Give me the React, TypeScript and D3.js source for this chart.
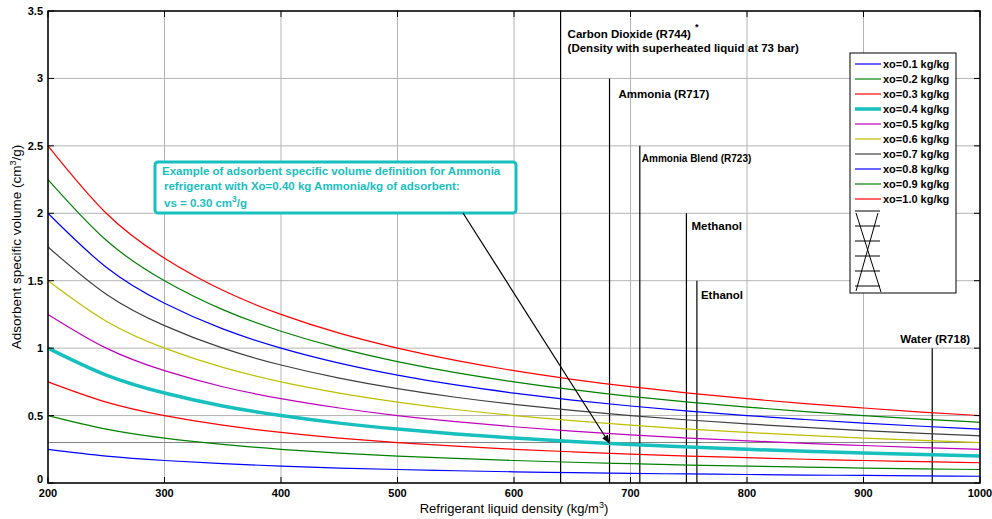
import React from 'react';
import * as d3 from 'd3';

// densities (kg/m3) where curves are sampled
const densities = [200, 250, 300, 350, 400, 450, 500, 550, 600, 650, 700, 750, 800, 850, 900, 950, 1000];

// adsorbent specific volume (cm3/g) for each xo
const xo01 = [0.25, 0.2, 0.167, 0.143, 0.125, 0.111, 0.1, 0.091, 0.083, 0.077, 0.071, 0.067, 0.063, 0.059, 0.056, 0.053, 0.05];
const xo02 = [0.5, 0.4, 0.333, 0.286, 0.25, 0.222, 0.2, 0.182, 0.167, 0.154, 0.143, 0.133, 0.125, 0.118, 0.111, 0.105, 0.1];
const xo03 = [0.75, 0.6, 0.5, 0.429, 0.375, 0.333, 0.3, 0.273, 0.25, 0.231, 0.214, 0.2, 0.188, 0.176, 0.167, 0.158, 0.15];
const xo04 = [1.0, 0.8, 0.667, 0.571, 0.5, 0.444, 0.4, 0.364, 0.333, 0.308, 0.286, 0.267, 0.25, 0.235, 0.222, 0.211, 0.2];
const xo05 = [1.25, 1.0, 0.833, 0.714, 0.625, 0.556, 0.5, 0.455, 0.417, 0.385, 0.357, 0.333, 0.313, 0.294, 0.278, 0.263, 0.25];
const xo06 = [1.5, 1.2, 1.0, 0.857, 0.75, 0.667, 0.6, 0.545, 0.5, 0.462, 0.429, 0.4, 0.375, 0.353, 0.333, 0.316, 0.3];
const xo07 = [1.75, 1.4, 1.167, 1.0, 0.875, 0.778, 0.7, 0.636, 0.583, 0.538, 0.5, 0.467, 0.438, 0.412, 0.389, 0.368, 0.35];
const xo08 = [2.0, 1.6, 1.333, 1.143, 1.0, 0.889, 0.8, 0.727, 0.667, 0.615, 0.571, 0.533, 0.5, 0.471, 0.444, 0.421, 0.4];
const xo09 = [2.25, 1.8, 1.5, 1.286, 1.125, 1.0, 0.9, 0.818, 0.75, 0.692, 0.643, 0.6, 0.563, 0.529, 0.5, 0.474, 0.45];
const xo10 = [2.5, 2.0, 1.667, 1.429, 1.25, 1.111, 1.0, 0.909, 0.833, 0.769, 0.714, 0.667, 0.625, 0.588, 0.556, 0.526, 0.5];

const seriesLabels = ['xo=0.1 kg/kg', 'xo=0.2 kg/kg', 'xo=0.3 kg/kg', 'xo=0.4 kg/kg', 'xo=0.5 kg/kg',
  'xo=0.6 kg/kg', 'xo=0.7 kg/kg', 'xo=0.8 kg/kg', 'xo=0.9 kg/kg', 'xo=1.0 kg/kg'];
const seriesValues = [xo01, xo02, xo03, xo04, xo05, xo06, xo07, xo08, xo09, xo10];
const seriesColors = ['#0000ff', '#008000', '#ff0000', '#17bfbf', '#bf00bf', '#bfbf00', '#404040', '#0000ff', '#008000', '#ff0000'];

// refrigerant liquid densities and the height their marker lines reach
const refNames = ['Carbon Dioxide (R744)', 'Ammonia (R717)', 'Ammonia Blend (R723)', 'Methanol', 'Ethanol', 'Water (R718)'];
const refDensity = [640, 682, 708, 748, 757, 959];
const refTop = [3.5, 3.0, 2.5, 2.0, 1.5, 1.0];

const xTicks = [200, 300, 400, 500, 600, 700, 800, 900, 1000];
const yTicks = [0, 0.5, 1, 1.5, 2, 2.5, 3, 3.5];

const exampleDensity = 682;
const exampleVs = 0.3;

const font = '"Liberation Sans", Arial, sans-serif';

export default function App() {
  const width = 992;
  const height = 519;
  const margin = { top: 11, right: 12, bottom: 36, left: 48 };

  const x = d3.scaleLinear().domain([200, 1000]).range([margin.left, width - margin.right]);
  const y = d3.scaleLinear().domain([0, 3.5]).range([height - margin.bottom, margin.top]);

  const line = d3.line<number>()
    .x((_, i) => x(densities[i]))
    .y(d => y(d))
    .curve(d3.curveNatural);

  const x0 = x(200), x1 = x(1000), y0 = y(0), y1 = y(3.5);

  return (
    <>
      <style>{'body{margin:0}'}</style>
      <svg width={width} height={height} style={{ display: 'block', fontFamily: font }}>
        <defs>
          <marker id="arrow" viewBox="0 0 10 10" refX="10" refY="5" markerWidth="7" markerHeight="7" orient="auto">
            <path d="M0,1 L10,5 L0,9 z" fill="#000" />
          </marker>
        </defs>
        <rect width={width} height={height} fill="#fff" />

        {/* grid */}
        {xTicks.map(t => (
          <line key={'gx' + t} x1={x(t)} x2={x(t)} y1={y0} y2={y1} stroke="#b4b4b4" strokeWidth={1} />
        ))}
        {yTicks.map(t => (
          <line key={'gy' + t} x1={x0} x2={x1} y1={y(t)} y2={y(t)} stroke="#b4b4b4" strokeWidth={1} />
        ))}

        {/* vs = 0.30 reference line */}
        <line x1={x0} x2={x1} y1={y(exampleVs)} y2={y(exampleVs)} stroke="#808080" strokeWidth={1} />

        {/* refrigerant density lines */}
        {refDensity.map((d, i) => (
          <line key={'r' + i} x1={x(d)} x2={x(d)} y1={y0} y2={y(refTop[i])} stroke="#000" strokeWidth={1.2} />
        ))}

        {/* curves */}
        {seriesValues.map((vals, i) => (
          <path key={'s' + i} d={line(vals) || ''} fill="none" stroke={seriesColors[i]}
            strokeWidth={i === 3 ? 3.5 : 1.2} />
        ))}

        {/* refrigerant labels */}
        <g fontWeight="bold" fontSize={11.5} fill="#000">
          <text x={x(refDensity[0]) + 7} y={38}>{refNames[0]}<tspan dx={4} dy={-8} fontSize={9}>*</tspan></text>
          <text x={x(refDensity[0]) + 7} y={52}>(Density with superheated liquid at 73 bar)</text>
          <text x={x(refDensity[1]) + 9} y={y(refTop[1]) + 20}>{refNames[1]}</text>
          <text x={x(refDensity[2]) + 2} y={y(refTop[2]) + 16} fontSize={10}>{refNames[2]}</text>
          <text x={x(refDensity[3]) + 5} y={y(refTop[3]) + 17}>{refNames[3]}</text>
          <text x={x(refDensity[4]) + 4} y={y(refTop[4]) + 18}>{refNames[4]}</text>
          <text x={x(refDensity[5]) - 32} y={y(refTop[5]) - 5}>{refNames[5]}</text>
        </g>

        {/* annotation box */}
        <rect x={155} y={162} width={361} height={51} rx={3} fill="#fff" stroke="#17bfbf" strokeWidth={3} />
        <g fontWeight="bold" fontSize={11.5} fill="#17bfbf">
          <text x={162} y={175}>Example of adsorbent specific volume definition for Ammonia</text>
          <text x={164} y={190}>refrigerant with Xo=0.40 kg Ammonia/kg of adsorbent:</text>
          <text x={164} y={207}>vs = 0.30 cm<tspan dy={-5} fontSize={8.5}>3</tspan><tspan dy={5}>/g</tspan></text>
        </g>
        <line x1={463} y1={213} x2={x(exampleDensity)} y2={y(exampleVs) + 1} stroke="#000" strokeWidth={1.2}
          markerEnd="url(#arrow)" />

        {/* axes box and ticks */}
        {xTicks.map(t => (
          <g key={'tx' + t}>
            <line x1={x(t)} x2={x(t)} y1={y0} y2={y0 - 6} stroke="#000" />
            <line x1={x(t)} x2={x(t)} y1={y1} y2={y1 + 6} stroke="#000" />
          </g>
        ))}
        {yTicks.map(t => (
          <g key={'ty' + t}>
            <line x1={x0} x2={x0 + 6} y1={y(t)} y2={y(t)} stroke="#000" />
            <line x1={x1} x2={x1 - 6} y1={y(t)} y2={y(t)} stroke="#000" />
          </g>
        ))}
        <rect x={x0} y={y1} width={x1 - x0} height={y0 - y1} fill="none" stroke="#000" strokeWidth={1.5} />

        {/* tick labels */}
        <g fontWeight="bold" fontSize={11} fill="#000">
          {xTicks.map(t => (
            <text key={'lx' + t} x={x(t)} y={y0 + 14} textAnchor="middle">{t}</text>
          ))}
          {yTicks.map(t => (
            <text key={'ly' + t} x={x0 - 5} y={y(t) + (t === 0 ? 0 : 4)} textAnchor="end">{t}</text>
          ))}
        </g>

        {/* axis titles */}
        <text x={(x0 + x1) / 2} y={513} textAnchor="middle" fontSize={13} fill="#000">
          Refrigerant liquid density (kg/m<tspan dy={-5} fontSize={9}>3</tspan><tspan dy={5}>)</tspan>
        </text>
        <text transform={`translate(21,${(y0 + y1) / 2}) rotate(-90)`} textAnchor="middle" fontSize={13.5} fill="#000">
          Adsorbent specific volume (cm<tspan dy={-5} fontSize={9}>3</tspan><tspan dy={5}>/g)</tspan>
        </text>

        {/* legend */}
        <rect x={850} y={53} width={106} height={240} fill="#fff" stroke="#000" strokeWidth={1} />
        {seriesLabels.map((s, i) => (
          <g key={'lg' + i}>
            <line x1={855} x2={881} y1={64 + i * 15} y2={64 + i * 15} stroke={seriesColors[i]}
              strokeWidth={i === 3 ? 3.5 : 1.2} />
            <text x={883} y={68 + i * 15} fontWeight="bold" fontSize={11} fill="#000">{s}</text>
          </g>
        ))}
        {refTop.map((_, i) => (
          <line key={'lr' + i} x1={855} x2={880} y1={211 + i * 15} y2={211 + i * 15} stroke="#000" strokeWidth={1} />
        ))}
        <line x1={856} y1={213} x2={881} y2={292} stroke="#000" strokeWidth={1} />
        <line x1={878} y1={213} x2={856} y2={291} stroke="#000" strokeWidth={1} />
      </svg>
    </>
  );
}
